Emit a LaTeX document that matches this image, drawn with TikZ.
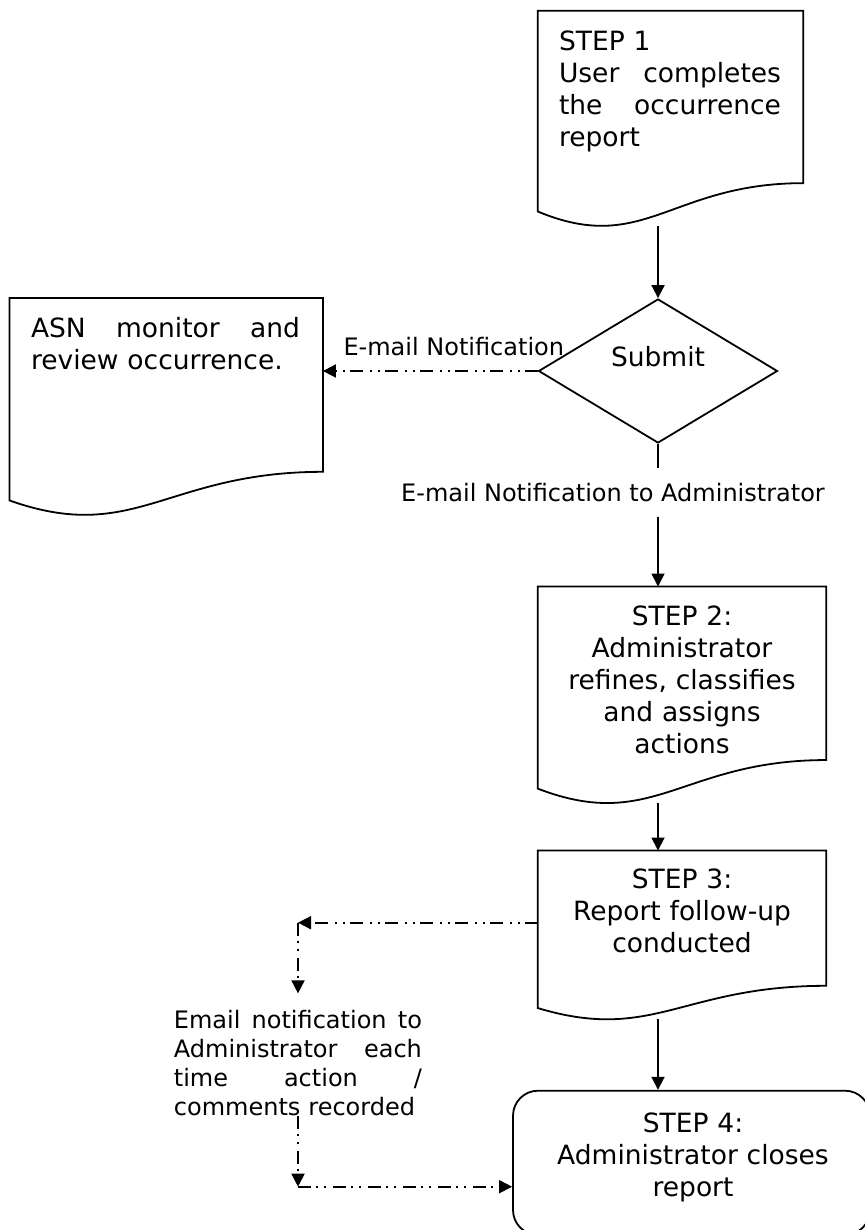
\documentclass[tikz,border=0pt]{standalone}
\usepackage{fontspec}
\setmainfont{DejaVu Sans}
\usetikzlibrary{arrows.meta,calc,shapes.geometric}

\tikzset{
    box line/.style={line width=1.8pt},
    docbox/.style={rectangle, inner sep=0pt},
    doctext/.style={inner sep=0pt, font=\fontsize{26.5}{32}\selectfont},
    lbltext/.style={inner sep=0pt, font=\fontsize{24}{29}\selectfont},
    flow/.style={line width=1.8pt, -{Triangle[length=13pt,width=13pt]}},
    notify/.style={flow, dash pattern=on 13pt off 5pt on 2pt off 6pt on 2pt off 7pt}
}

% document shape with the wavy bottom edge
\newcommand{\docoutline}[1]{%
    \path ($(#1.north west)!0.4!(#1.north east)$) coordinate (#1-cx)
          ($(#1.north west)!1.14!(#1.south west)$) coordinate (#1-cy);
    \draw[box line] (#1.north west) -- (#1.north east)
        -- ($(#1.north east)!0.802!(#1.south east)$)
        .. controls ($(#1.north)!0.802!(#1.south)$) and (#1-cy -| #1-cx)
        .. ($(#1.north west)!0.934!(#1.south west)$) -- cycle;}

\begin{document}
\begin{tikzpicture}[x=1pt, y=-1pt]

\path[use as bounding box, fill=white] (0,0) rectangle (864,1230);

% Step 1
\node[docbox, minimum width=265pt, minimum height=214.5pt] (s1) at (670.5,118.25) {};
\docoutline{s1}
\node[doctext, text width=222pt, align=left, anchor=north west] (s1txt)
    at ([xshift=21pt, yshift=-19.4pt]s1.north west)
    {STEP 1\\ User\hfill completes\\ the\hfill occurrence\\ report};

% Submit decision
\node[diamond, box line, draw, shape aspect=1.66, inner sep=0pt,
      minimum width=239pt, minimum height=144pt, text depth=30pt,
      font=\fontsize{26.5}{32}\selectfont] (sub) at (658,371) {Submit};

% ASN review
\node[docbox, minimum width=313.1pt, minimum height=216.2pt] (asn) at (166.15,406.4) {};
\docoutline{asn}
\node[doctext, text width=269pt, align=left, anchor=north west] (asntxt)
    at ([xshift=21.4pt, yshift=-19pt]asn.north west)
    {ASN\hfill monitor\hfill and\\ review occurrence.};

% Step 2
\node[docbox, minimum width=288pt, minimum height=216pt] (s2) at (682,694.7) {};
\docoutline{s2}
\node[doctext, text width=246pt, align=center, anchor=north] (s2txt)
    at ([yshift=-18.7pt]s2.north)
    {STEP 2:\\ Administrator\\ refines, classifies\\ and assigns\\ actions};

% Step 3
\node[docbox, minimum width=288pt, minimum height=168.3pt] (s3) at (682,934.85) {};
\docoutline{s3}
\node[doctext, text width=246pt, align=center, anchor=north] (s3txt)
    at ([yshift=-18pt]s3.north)
    {STEP 3:\\ Report follow-up\\ conducted};

% Step 4
\node[docbox, draw, box line, rounded corners=25pt,
      minimum width=357pt, minimum height=144.3pt] (s4) at (691.5,1162.85) {};
\node[doctext, text width=320pt, align=center, anchor=north] (s4txt)
    at ([xshift=1.5pt, yshift=-23pt]s4.north)
    {STEP 4:\\ Administrator closes\\ report};

% Labels
\node[lbltext, anchor=base west] (asnlbl) at (343.3,355) {E-mail Notification};
\node[lbltext, inner ysep=15pt, anchor=base] (adminlbl) at (613,501)
    {E-mail Notification to Administrator};
\node[lbltext, text width=248pt, align=left, anchor=north west] (mailtxt) at (173.7,1010.4)
    {Email\hfill notification\hfill to\\ Administrator\hfill each\\ time\hfill action\hfill /\\ comments recorded};

% Corners of the notification loop
\coordinate (c1) at (298,922.7);
\coordinate (c2) at (298,1186.7);

% Main flow
\draw[flow] (s1.south -| sub.north) -- (sub.north);
\draw[box line] (sub.south) -- (adminlbl.north -| sub.south);
\draw[flow] (adminlbl.south -| sub.south) -- (s2.north -| sub.south);
\draw[flow] (s2.south -| sub.south) -- (s3.north -| sub.south);
\draw[flow] (s3.south -| sub.south) -- (s4.north -| sub.south);

% Notifications
\draw[notify] (sub.west) -- (sub.west -| asn.east);
\draw[notify] (c1 -| s3.west) -- (c1);
\draw[notify] (c1) -- ([yshift=17pt]mailtxt.north -| c1);
\draw[notify] (mailtxt.south -| c2) -- (c2);
\draw[notify] (c2) -- (c2 -| s4.west);

\end{tikzpicture}
\end{document}
